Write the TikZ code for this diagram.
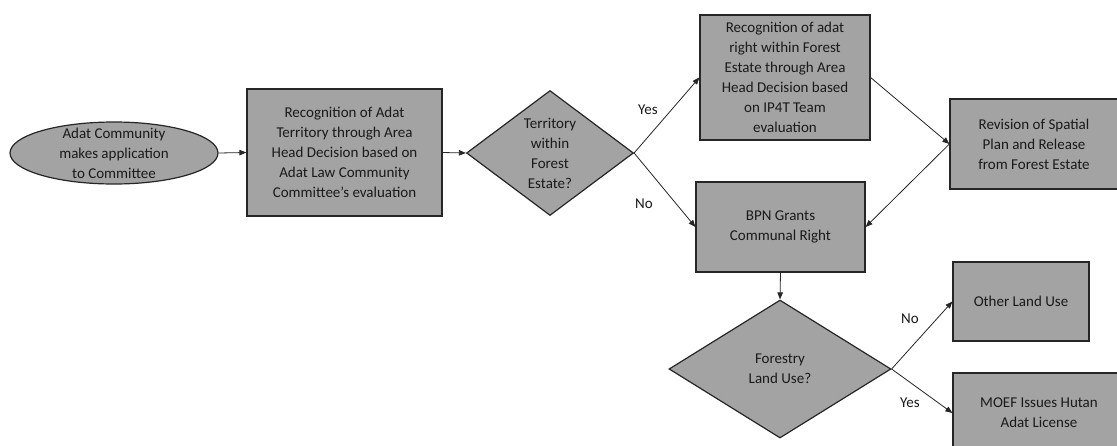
\documentclass[tikz,border=0pt]{standalone}
\usepackage{fontspec}
\setmainfont{Carlito}
\usetikzlibrary{shapes.geometric,arrows.meta}
\definecolor{boxgray}{HTML}{A3A3A3}
\definecolor{txtgray}{HTML}{1A1A1A}
\begin{document}
\begin{tikzpicture}[x=1pt,y=-1pt,
  every node/.style={font={\fontsize{15pt}{20pt}\selectfont},text=txtgray},
  stepbox/.style={draw=black!85,line width=1.2pt,fill=boxgray,inner sep=0pt,align=center},
  startshape/.style={ellipse,draw=black!85,line width=1.2pt,fill=boxgray,inner sep=0pt,minimum width=208pt,minimum height=62pt},
  choice/.style={diamond,draw=black!85,line width=1.2pt,fill=boxgray,inner sep=0pt,align=center},
  flow/.style={-{Triangle[length=7pt,width=5.5pt]},line width=0.8pt,draw=black!85}]
\clip (0,0) rectangle (1117,445);
\fill[white] (0,0) rectangle (1117,445);

\node[startshape] (app) at (114,153) {};
\node[align=center] (appText) at (app) {Adat Community\\makes application\\to Committee};
\node[stepbox,minimum width=195pt,minimum height=127pt] (recTerr) at (344.5,152.5) {Recognition of Adat\\Territory through Area\\Head Decision based on\\Adat Law Community\\Committee’s evaluation};
\node[choice,shape aspect=1.34,minimum width=167pt,minimum height=125pt] (inForest) at (550,153) {Territory\\within\\Forest\\Estate?};
\node[stepbox,minimum width=170pt,minimum height=125pt] (recRight) at (785,77.5) {Recognition of adat\\right within Forest\\Estate through Area\\Head Decision based\\on IP4T Team\\evaluation};
\node[stepbox,minimum width=169pt,minimum height=90pt] (bpn) at (780.5,227) {BPN Grants\\Communal Right};
\node[stepbox,minimum width=168pt,minimum height=90pt] (revision) at (1034,144) {Revision of Spatial\\Plan and Release\\from Forest Estate};
\node[choice,shape aspect=1.6,minimum width=222pt,minimum height=138pt] (landUse) at (780,369) {Forestry\\Land Use?};
\node[stepbox,minimum width=136pt,minimum height=79pt] (otherUse) at (1021,301.5) {Other Land Use};
\node[stepbox,minimum width=172pt,minimum height=80pt] (moef) at (1039,413) {MOEF Issues Hutan\\Adat License};

\node (yesA) at (648,110) {Yes};
\node (noA) at (644,204) {No};
\node (noB) at (910,319) {No};
\node (yesB) at (910,403) {Yes};

\draw[flow] (app.east) -- (recTerr.west);
\draw[flow] (recTerr.east) -- (inForest.west);
\draw[flow] (inForest.east) -- (recRight.west);
\draw[flow] (inForest.east) -- (bpn.west);
\draw[flow] (recRight.east) -- (revision.west);
\draw[flow] (revision.west) -- (bpn.east);
\draw[flow] (bpn.south) -- (landUse.north);
\draw[flow] (landUse.east) -- (otherUse.west);
\draw[flow] (landUse.east) -- (moef.west);
\end{tikzpicture}
\end{document}
